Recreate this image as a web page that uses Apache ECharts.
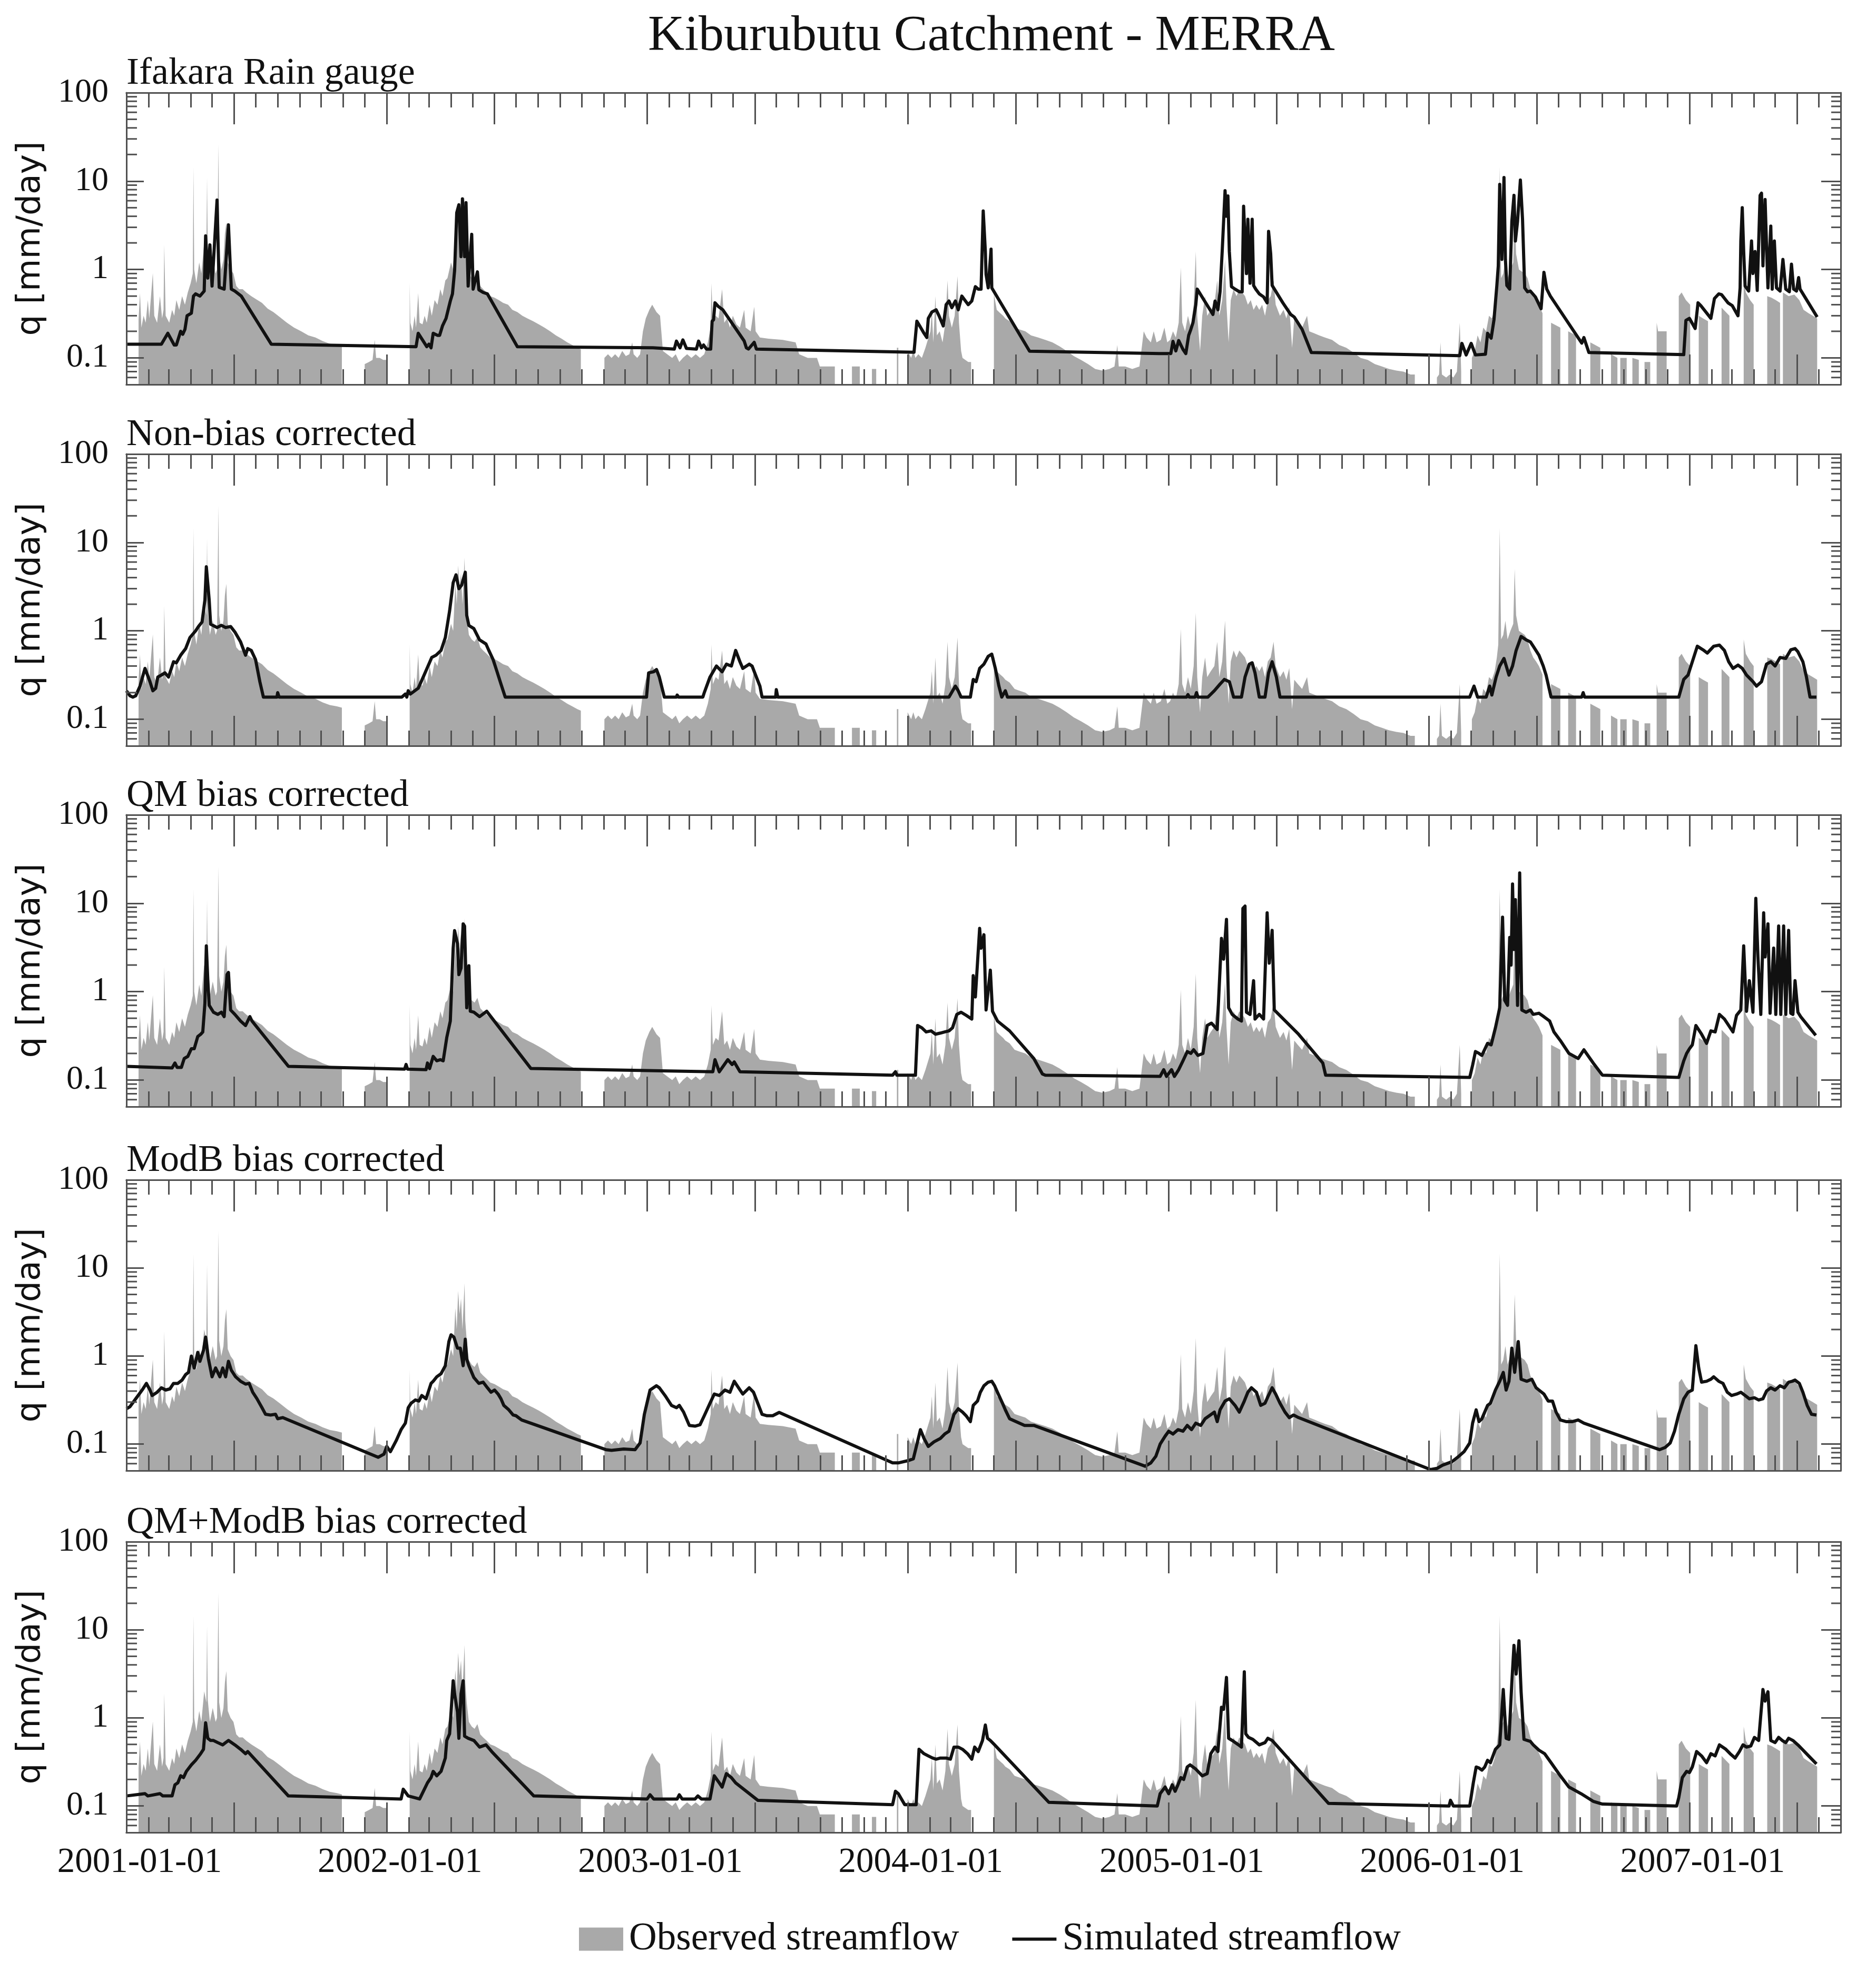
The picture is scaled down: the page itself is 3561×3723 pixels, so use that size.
<!DOCTYPE html>
<html><head><meta charset="utf-8">
<script src="https://cdn.jsdelivr.net/npm/echarts@6/dist/echarts.min.js"></script>
<style>html,body{margin:0;padding:0;background:#fff}#c{width:3561px;height:3723px}</style>
</head><body><div id="c"></div>
<script>
// ---------------- DATA (x = days since 2001-01-01, y = q [mm/day]) ----------------
const mainTitle = 'Kiburubutu Catchment - MERRA';
const panelTitles = ['Ifakara Rain gauge', 'Non-bias corrected', 'QM bias corrected', 'ModB bias corrected', 'QM+ModB bias corrected'];
const yearLabels = ['2001-01-01','2002-01-01','2003-01-01','2004-01-01','2005-01-01','2006-01-01','2007-01-01'];
const yTickLabels = [0.1, 1, 10, 100];
const minorTickValues = [0.06,0.07,0.08,0.09,0.2,0.3,0.4,0.5,0.6,0.7,0.8,0.9,2,3,4,5,6,7,8,9,20,30,40,50,60,70,80,90];
const legendNames = ['Observed streamflow', 'Simulated streamflow'];

const observed = [[17,0.27],[19,0.54],[21,0.22],[24,0.3],[27,0.25],[30,0.45],[32,0.28],[37,0.91],[39,0.3],[43,0.25],[47,0.5],[50,0.28],[52,0.35],[53,1.9],[55,0.3],[60,0.25],[64,0.35],[67,0.3],[70,0.45],[74,0.35],[78,0.5],[82,0.4],[86,0.55],[90,0.7],[93,0.9],[94,14.5],[95,1.0],[98,0.7],[102,1.2],[105,0.9],[109,2.0],[112,1.5],[113,11],[114,1.6],[117,0.9],[121,1.3],[125,0.9],[127,1.0],[129,26],[130,1.5],[133,1.0],[136,1.3],[138,2.5],[140,3.4],[142,1.2],[146,1.0],[150,0.9],[154,0.65],[158,0.6],[163,0.6],[168,0.55],[175,0.5],[182,0.46],[190,0.42],[198,0.36],[206,0.33],[215,0.29],[225,0.25],[235,0.22],[245,0.2],[255,0.18],[265,0.17],[275,0.155],[285,0.145],[295,0.14],[302,0.135],[303,null],
[334,0.085],[340,0.09],[345,0.095],[348,0.16],[350,0.1],[355,0.1],[360,0.095],[366,0.095],[367,null],
[397,0.7],[398,0.25],[401,0.2],[404,0.3],[406,0.22],[409,0.54],[411,0.25],[415,0.24],[418,0.3],[421,0.25],[425,0.4],[428,0.3],[432,0.45],[436,0.4],[440,0.6],[443,0.5],[447,0.75],[450,0.8],[455,1.2],[458,1.0],[461,3.5],[463,2.0],[465,5.5],[467,3.0],[469,4.5],[471,2.0],[474,6.7],[475,2.5],[477,1.5],[480,0.9],[484,0.8],[488,0.75],[492,0.85],[496,0.65],[500,0.6],[505,0.55],[510,0.5],[516,0.48],[522,0.45],[528,0.42],[535,0.4],[541,0.35],[548,0.33],[555,0.3],[562,0.28],[570,0.26],[578,0.24],[586,0.22],[594,0.2],[602,0.18],[610,0.165],[618,0.15],[625,0.14],[632,0.13],[637,0.125],[638,null],
[670,0.1],[675,0.11],[680,0.1],[685,0.11],[690,0.1],[695,0.12],[700,0.105],[705,0.11],[709,0.15],[711,0.11],[716,0.1],[720,0.11],[724,0.2],[728,0.28],[733,0.35],[737,0.4],[743,0.33],[748,0.3],[752,0.12],[758,0.11],[765,0.1],[770,0.11],[775,0.09],[780,0.1],[786,0.11],[792,0.1],[798,0.11],[804,0.1],[810,0.11],[815,0.15],[819,0.22],[820,0.7],[822,0.25],[826,0.3],[830,0.28],[835,0.6],[838,0.25],[842,0.28],[846,0.22],[850,0.3],[855,0.24],[860,0.22],[866,0.35],[868,0.22],[875,0.2],[880,0.38],[882,0.2],[888,0.17],[900,0.165],[920,0.16],[938,0.15],[943,0.11],[955,0.1],[968,0.1],[972,0.08],[993,0.08],[994,null],
[1017,0.08],[1028,0.08],[1029,null],[1045,0.075],[1051,0.075],[1052,null],[1080,0.13],[1082,0.13],[1083,null],
[1095,0.12],[1100,0.1],[1103,0.12],[1106,0.1],[1110,0.11],[1115,0.1],[1120,0.13],[1127,0.2],[1129,0.35],[1131,0.15],[1134,0.5],[1136,0.18],[1140,0.2],[1144,0.15],[1148,0.25],[1151,0.75],[1153,0.3],[1157,0.22],[1161,0.3],[1165,0.84],[1167,0.25],[1170,0.12],[1172,0.1],[1180,0.09],[1184,0.09],[1185,null],
[1216,0.53],[1220,0.35],[1225,0.32],[1229,0.3],[1232,0.28],[1238,0.26],[1245,0.22],[1252,0.21],[1260,0.2],[1268,0.18],[1278,0.17],[1288,0.16],[1298,0.15],[1308,0.135],[1318,0.12],[1328,0.105],[1338,0.095],[1348,0.085],[1358,0.075],[1368,0.072],[1378,0.075],[1385,0.08],[1389,0.14],[1391,0.08],[1400,0.08],[1410,0.075],[1420,0.08],[1426,0.2],[1430,0.17],[1436,0.15],[1440,0.2],[1444,0.15],[1450,0.16],[1455,0.22],[1459,0.15],[1463,0.16],[1467,0.2],[1471,0.17],[1475,0.25],[1478,1.05],[1480,0.25],[1484,0.2],[1488,0.3],[1492,0.22],[1496,0.4],[1499,1.6],[1501,0.3],[1505,0.12],[1508,0.3],[1512,0.5],[1515,0.3],[1520,0.35],[1525,0.4],[1529,0.75],[1532,0.3],[1536,0.45],[1540,1.3],[1542,0.4],[1545,0.15],[1548,0.45],[1552,0.6],[1556,0.5],[1560,0.6],[1564,0.55],[1568,0.5],[1572,0.4],[1576,0.45],[1580,0.35],[1584,0.4],[1588,0.35],[1592,0.4],[1596,0.3],[1600,0.45],[1604,0.5],[1608,0.75],[1611,0.4],[1617,0.3],[1622,0.35],[1626,0.28],[1630,0.38],[1634,0.13],[1637,0.28],[1642,0.25],[1648,0.22],[1655,0.3],[1658,0.2],[1665,0.19],[1672,0.18],[1680,0.17],[1690,0.16],[1700,0.14],[1710,0.13],[1720,0.115],[1730,0.1],[1740,0.095],[1750,0.085],[1760,0.08],[1770,0.075],[1780,0.072],[1790,0.07],[1800,0.065],[1806,0.065],[1807,null],
[1837,0.06],[1840,0.065],[1842,0.15],[1844,0.065],[1850,0.06],[1855,0.065],[1860,0.06],[1865,0.07],[1869,0.25],[1871,0.07],[1872,null],
[1886,0.1],[1890,0.12],[1894,0.18],[1898,0.15],[1902,0.22],[1906,0.2],[1910,0.3],[1914,0.28],[1918,0.35],[1921,0.5],[1923,0.7],[1925,14.5],[1927,0.8],[1930,0.9],[1933,1.3],[1936,0.8],[1940,1.0],[1944,1.2],[1946,5.0],[1948,1.5],[1952,1.0],[1956,0.95],[1960,0.9],[1964,0.8],[1968,0.6],[1972,0.5],[1976,0.45],[1980,0.4],[1985,0.32],[1986,null],
[1997,0.25],[2010,0.22],[2011,null],[2021,0.2],[2032,0.18],[2033,null],[2052,0.15],[2066,0.13],[2067,null],[2081,0.11],[2090,0.1],[2091,null],[2094,0.1],[2103,0.1],[2104,null],[2111,0.1],[2120,0.095],[2121,null],[2128,0.09],[2136,0.09],[2137,null],[2145,0.25],[2147,0.2],[2159,0.2],[2160,null],
[2176,0.5],[2180,0.55],[2186,0.45],[2192,0.4],[2193,null],[2204,0.3],[2210,0.28],[2217,0.26],[2218,null],[2236,0.37],[2242,0.33],[2247,0.3],[2248,null],[2267,0.8],[2270,0.55],[2276,0.45],[2281,0.4],[2282,null],[2300,0.5],[2306,0.48],[2312,0.45],[2318,0.42],[2319,null],[2322,0.55],[2330,0.5],[2338,0.52],[2345,0.45],[2351,0.35],[2358,0.32],[2364,0.3],[2370,0.28]];

const simGauge = [[0,0.143],[49,0.143],[58,0.19],[67,0.14],[70,0.14],[76,0.2],[79,0.185],[82,0.21],[85,0.3],[91,0.32],[94,0.5],[97,0.53],[103,0.5],[109,0.57],[111,2.4],[114,0.8],[117,1.9],[120,0.65],[127,6.1],[130,0.63],[137,0.6],[143,3.2],[147,0.6],[152,0.57],[161,0.5],[203,0.143],[406,0.134],[409,0.19],[421,0.134],[424,0.143],[427,0.13],[430,0.19],[436,0.18],[439,0.18],[443,0.23],[448,0.28],[454,0.44],[457,0.53],[460,0.97],[463,4.4],[466,5.4],[469,1.4],[471,6.3],[474,1.4],[476,5.7],[479,0.65],[484,2.5],[486,0.6],[492,0.94],[494,0.59],[500,0.55],[506,0.53],[548,0.134],[738,0.13],[768,0.126],[771,0.155],[776,0.13],[780,0.16],[785,0.128],[799,0.126],[802,0.155],[806,0.13],[809,0.14],[813,0.126],[819,0.126],[821,0.26],[823,0.27],[825,0.42],[830,0.38],[836,0.35],[866,0.155],[869,0.13],[872,0.126],[880,0.15],[883,0.126],[1104,0.116],[1108,0.26],[1112,0.23],[1118,0.19],[1122,0.17],[1124,0.28],[1129,0.33],[1135,0.35],[1139,0.3],[1145,0.23],[1149,0.4],[1153,0.44],[1157,0.37],[1162,0.44],[1166,0.35],[1171,0.5],[1180,0.4],[1185,0.44],[1190,0.64],[1194,0.6],[1198,0.6],[1201,4.6],[1204,1.6],[1205,0.88],[1208,0.62],[1212,1.7],[1213,0.62],[1266,0.119],[1448,0.112],[1464,0.112],[1467,0.154],[1471,0.12],[1475,0.157],[1481,0.125],[1485,0.112],[1489,0.18],[1492,0.21],[1495,0.25],[1499,0.4],[1501,0.6],[1523,0.31],[1526,0.44],[1530,0.35],[1533,0.56],[1536,1.6],[1540,7.8],[1542,4.0],[1544,6.8],[1546,1.6],[1549,0.64],[1554,0.6],[1560,0.56],[1564,0.56],[1566,5.2],[1570,0.9],[1572,3.7],[1575,0.7],[1578,3.7],[1580,0.66],[1583,0.6],[1588,0.53],[1594,0.49],[1599,0.42],[1601,2.7],[1604,1.5],[1606,0.66],[1621,0.42],[1632,0.31],[1637,0.29],[1648,0.21],[1661,0.115],[1869,0.106],[1872,0.146],[1878,0.108],[1885,0.146],[1891,0.108],[1905,0.11],[1908,0.19],[1913,0.167],[1917,0.27],[1921,0.66],[1923,1.1],[1925,9.2],[1928,1.3],[1931,11],[1933,1.3],[1935,0.66],[1939,0.6],[1942,3.5],[1945,6.9],[1947,2.1],[1950,3.5],[1954,10.3],[1957,3.7],[1960,0.62],[1964,0.56],[1968,0.57],[1975,0.49],[1983,0.36],[1987,0.93],[1991,0.6],[1996,0.5],[2040,0.147],[2043,0.17],[2050,0.115],[2183,0.109],[2186,0.265],[2191,0.28],[2199,0.215],[2203,0.42],[2207,0.39],[2221,0.28],[2226,0.47],[2232,0.53],[2236,0.52],[2245,0.42],[2251,0.39],[2259,0.3],[2262,0.62],[2263,2.1],[2265,5.0],[2267,1.6],[2269,0.65],[2274,0.57],[2278,2.1],[2280,0.9],[2283,1.6],[2286,0.58],[2290,6.9],[2292,7.3],[2294,1.1],[2297,6.2],[2299,1.9],[2301,0.62],[2305,3.1],[2307,0.6],[2310,2.1],[2313,0.62],[2318,0.57],[2322,1.3],[2326,0.6],[2331,0.56],[2334,1.15],[2337,0.6],[2341,0.57],[2344,0.81],[2346,0.6],[2370,0.29]];

const simNoBias = [[0,0.21],[5,0.184],[9,0.178],[13,0.184],[19,0.237],[26,0.376],[33,0.266],[37,0.21],[41,0.224],[44,0.3],[49,0.316],[54,0.335],[59,0.3],[66,0.447],[70,0.435],[76,0.53],[83,0.63],[89,0.84],[97,1.0],[101,1.12],[106,1.26],[110,2.24],[112,5.3],[116,2.24],[118,1.19],[127,1.09],[133,1.155],[139,1.09],[146,1.12],[152,0.97],[160,0.75],[167,0.53],[170,0.63],[175,0.6],[181,0.473],[187,0.266],[192,0.178],[211,0.178],[212,0.2],[214,0.178],[386,0.178],[391,0.193],[393,0.178],[395,0.21],[398,0.193],[409,0.224],[416,0.3],[422,0.387],[428,0.5],[434,0.53],[441,0.6],[447,0.84],[453,1.68],[458,3.5],[462,4.3],[466,3.0],[470,3.3],[475,4.6],[477,1.5],[480,1.15],[487,1.06],[495,0.79],[504,0.71],[508,0.6],[514,0.473],[519,0.355],[525,0.25],[531,0.178],[729,0.178],[732,0.335],[739,0.344],[743,0.365],[747,0.3],[754,0.178],[771,0.178],[772,0.188],[774,0.178],[808,0.178],[810,0.2],[818,0.3],[827,0.4],[835,0.344],[841,0.42],[848,0.4],[854,0.6],[860,0.447],[864,0.376],[873,0.42],[877,0.4],[883,0.3],[888,0.237],[891,0.178],[910,0.178],[911,0.216],[913,0.178],[1153,0.178],[1162,0.237],[1166,0.21],[1170,0.178],[1183,0.178],[1187,0.282],[1191,0.266],[1196,0.376],[1202,0.42],[1208,0.515],[1213,0.545],[1218,0.376],[1223,0.237],[1227,0.178],[1232,0.21],[1235,0.178],[1486,0.178],[1488,0.19],[1490,0.178],[1498,0.178],[1500,0.2],[1502,0.178],[1516,0.178],[1525,0.21],[1533,0.25],[1539,0.282],[1546,0.266],[1552,0.178],[1563,0.178],[1568,0.3],[1574,0.42],[1578,0.435],[1582,0.335],[1588,0.178],[1596,0.178],[1601,0.335],[1606,0.447],[1612,0.3],[1617,0.178],[1883,0.178],[1889,0.237],[1894,0.178],[1906,0.178],[1911,0.237],[1914,0.188],[1920,0.3],[1925,0.4],[1931,0.487],[1938,0.316],[1943,0.4],[1948,0.6],[1955,0.865],[1962,0.79],[1968,0.75],[1972,0.67],[1980,0.53],[1986,0.4],[1990,0.316],[1997,0.178],[2040,0.178],[2042,0.2],[2044,0.178],[2176,0.178],[2183,0.282],[2189,0.316],[2195,0.447],[2202,0.67],[2210,0.61],[2216,0.56],[2225,0.67],[2233,0.69],[2240,0.6],[2246,0.447],[2252,0.376],[2259,0.41],[2265,0.376],[2271,0.316],[2280,0.266],[2285,0.237],[2292,0.266],[2299,0.42],[2305,0.447],[2311,0.4],[2318,0.5],[2326,0.487],[2333,0.61],[2339,0.63],[2343,0.58],[2350,0.447],[2355,0.3],[2360,0.178],[2369,0.178]];

const simQM = [[0,0.143],[64,0.137],[68,0.156],[71,0.139],[77,0.139],[81,0.175],[86,0.185],[91,0.226],[95,0.226],[100,0.311],[104,0.329],[107,0.35],[110,0.74],[112,3.3],[114,1.39],[116,0.7],[122,0.585],[128,0.553],[133,0.585],[137,0.522],[141,1.56],[143,1.65],[146,0.62],[152,0.553],[160,0.465],[167,0.414],[173,0.522],[176,0.465],[227,0.143],[390,0.133],[392,0.15],[394,0.133],[420,0.131],[422,0.156],[425,0.135],[430,0.185],[435,0.165],[440,0.17],[444,0.165],[449,0.302],[454,0.465],[458,3.1],[460,4.9],[464,3.5],[466,1.56],[469,1.85],[472,5.85],[474,5.5],[477,0.657],[480,1.96],[482,0.6],[487,0.585],[495,0.522],[505,0.6],[567,0.135],[822,0.124],[825,0.17],[831,0.124],[843,0.17],[849,0.15],[852,0.16],[860,0.124],[1074,0.1135],[1078,0.124],[1080,0.1135],[1106,0.1135],[1109,0.414],[1115,0.39],[1121,0.35],[1128,0.36],[1134,0.33],[1141,0.34],[1147,0.35],[1153,0.36],[1158,0.39],[1164,0.553],[1170,0.585],[1177,0.54],[1185,0.49],[1187,1.52],[1190,0.87],[1196,5.2],[1198,3.1],[1202,4.4],[1205,0.62],[1211,1.75],[1214,0.6],[1221,0.465],[1238,0.36],[1272,0.175],[1284,0.117],[1288,0.1135],[1449,0.11],[1454,0.131],[1458,0.11],[1465,0.131],[1469,0.11],[1475,0.131],[1481,0.165],[1487,0.21],[1492,0.2],[1496,0.22],[1502,0.19],[1509,0.2],[1515,0.414],[1521,0.44],[1529,0.373],[1535,4.0],[1538,2.33],[1542,6.57],[1545,0.657],[1550,0.553],[1558,0.49],[1563,0.465],[1565,8.76],[1568,9.28],[1570,0.585],[1575,0.553],[1580,1.33],[1582,0.49],[1588,0.553],[1594,0.49],[1599,7.8],[1602,2.1],[1606,4.93],[1609,0.62],[1643,0.33],[1677,0.156],[1681,0.1135],[1883,0.107],[1887,0.147],[1891,0.21],[1896,0.2],[1900,0.19],[1908,0.26],[1913,0.25],[1919,0.39],[1925,0.657],[1929,6.96],[1932,0.8],[1936,0.7],[1939,4.1],[1941,2.0],[1943,16.5],[1945,3.0],[1947,11.0],[1950,0.7],[1953,22],[1956,0.62],[1962,0.585],[1968,0.62],[1972,0.553],[1980,0.57],[1987,0.52],[1995,0.465],[2001,0.35],[2010,0.28],[2022,0.2],[2035,0.175],[2043,0.22],[2056,0.156],[2069,0.1135],[2176,0.107],[2183,0.165],[2187,0.2],[2191,0.226],[2195,0.25],[2200,0.414],[2208,0.33],[2215,0.26],[2221,0.36],[2227,0.35],[2233,0.553],[2240,0.49],[2246,0.414],[2252,0.35],[2257,0.54],[2263,0.62],[2267,3.29],[2271,0.6],[2275,1.33],[2280,0.585],[2284,11.35],[2287,2.47],[2291,0.553],[2295,7.8],[2297,2.47],[2301,5.85],[2304,0.57],[2309,3.11],[2312,0.553],[2316,5.53],[2319,0.553],[2323,5.53],[2326,0.553],[2330,4.93],[2333,0.57],[2336,0.553],[2339,1.33],[2343,0.585],[2347,0.52],[2368,0.32]];

const simModB = [[0,0.252],[5,0.266],[13,0.327],[22,0.411],[28,0.489],[33,0.411],[36,0.356],[43,0.388],[49,0.436],[55,0.411],[61,0.424],[66,0.489],[72,0.489],[78,0.533],[83,0.616],[87,0.652],[91,1.0],[95,0.732],[100,1.1],[103,0.871],[108,1.16],[111,1.64],[115,0.923],[120,0.581],[125,0.732],[131,0.581],[135,0.732],[139,0.581],[143,0.871],[147,0.69],[153,0.581],[160,0.517],[167,0.48],[172,0.489],[177,0.388],[183,0.327],[190,0.259],[195,0.218],[202,0.214],[209,0.218],[212,0.194],[219,0.2],[353,0.0708],[361,0.077],[365,0.094],[370,0.082],[378,0.109],[385,0.146],[391,0.173],[395,0.259],[399,0.291],[405,0.317],[410,0.308],[414,0.356],[420,0.327],[427,0.489],[430,0.517],[435,0.581],[441,0.63],[447,0.776],[452,1.46],[455,1.74],[459,1.64],[464,1.23],[468,1.23],[472,0.776],[475,1.55],[477,0.923],[480,0.776],[487,0.57],[494,0.489],[500,0.505],[506,0.436],[511,0.388],[516,0.411],[521,0.37],[525,0.327],[529,0.275],[536,0.245],[542,0.214],[546,0.21],[554,0.188],[672,0.0865],[680,0.085],[697,0.088],[713,0.0865],[720,0.103],[726,0.218],[734,0.411],[743,0.46],[747,0.436],[755,0.356],[764,0.275],[771,0.259],[775,0.275],[781,0.231],[789,0.163],[797,0.16],[804,0.166],[810,0.21],[818,0.291],[824,0.37],[831,0.356],[839,0.411],[846,0.388],[852,0.517],[858,0.436],[864,0.37],[873,0.436],[879,0.388],[885,0.291],[891,0.218],[898,0.21],[906,0.21],[915,0.229],[1074,0.0612],[1082,0.0612],[1095,0.0647],[1103,0.068],[1107,0.092],[1113,0.146],[1118,0.116],[1124,0.094],[1132,0.106],[1141,0.116],[1147,0.13],[1153,0.14],[1160,0.218],[1166,0.252],[1172,0.231],[1177,0.21],[1183,0.18],[1187,0.275],[1193,0.308],[1197,0.388],[1202,0.46],[1208,0.505],[1213,0.517],[1217,0.46],[1221,0.388],[1228,0.291],[1232,0.245],[1238,0.194],[1247,0.18],[1259,0.163],[1272,0.163],[1428,0.0561],[1436,0.0612],[1443,0.0728],[1449,0.1],[1456,0.123],[1461,0.14],[1467,0.13],[1474,0.146],[1481,0.14],[1487,0.163],[1493,0.146],[1499,0.173],[1506,0.163],[1512,0.194],[1518,0.21],[1525,0.231],[1529,0.18],[1533,0.245],[1540,0.308],[1546,0.327],[1554,0.275],[1560,0.231],[1567,0.308],[1572,0.388],[1577,0.436],[1584,0.388],[1590,0.275],[1596,0.291],[1600,0.345],[1606,0.436],[1611,0.37],[1617,0.291],[1624,0.231],[1630,0.2],[1636,0.214],[1643,0.2],[1828,0.0514],[1837,0.053],[1845,0.0577],[1858,0.0631],[1866,0.0708],[1875,0.082],[1883,0.103],[1887,0.173],[1892,0.245],[1896,0.18],[1900,0.194],[1908,0.275],[1912,0.291],[1919,0.411],[1925,0.517],[1930,0.652],[1934,0.411],[1938,0.517],[1942,1.23],[1946,0.652],[1951,1.46],[1955,0.545],[1963,0.517],[1970,0.545],[1976,0.436],[1980,0.411],[1987,0.37],[1993,0.308],[1999,0.308],[2004,0.231],[2010,0.188],[2018,0.18],[2027,0.18],[2035,0.188],[2043,0.173],[2149,0.0865],[2157,0.0916],[2164,0.103],[2170,0.14],[2176,0.218],[2183,0.327],[2189,0.388],[2195,0.411],[2200,1.31],[2204,0.732],[2208,0.505],[2215,0.517],[2221,0.545],[2225,0.581],[2232,0.517],[2238,0.489],[2244,0.388],[2250,0.356],[2257,0.37],[2263,0.388],[2269,0.356],[2275,0.327],[2282,0.336],[2288,0.317],[2294,0.327],[2299,0.4],[2305,0.436],[2311,0.411],[2318,0.46],[2324,0.436],[2330,0.505],[2335,0.517],[2339,0.533],[2345,0.489],[2350,0.388],[2356,0.275],[2362,0.218],[2369,0.214]];

const simQMModB = [[0,0.13],[26,0.138],[30,0.13],[47,0.138],[51,0.13],[64,0.13],[68,0.174],[72,0.183],[76,0.22],[80,0.21],[84,0.247],[91,0.293],[97,0.33],[104,0.392],[108,0.44],[111,0.88],[114,0.587],[118,0.554],[122,0.554],[128,0.524],[135,0.494],[139,0.524],[143,0.554],[152,0.494],[160,0.44],[167,0.392],[170,0.415],[227,0.13],[385,0.12],[388,0.155],[395,0.13],[411,0.12],[422,0.183],[427,0.21],[430,0.247],[435,0.22],[441,0.247],[447,0.35],[449,0.554],[453,0.66],[458,2.64],[460,1.87],[464,1.17],[466,0.587],[469,1.87],[472,2.64],[474,0.62],[479,0.587],[487,0.554],[495,0.466],[504,0.494],[512,0.415],[571,0.13],[730,0.12],[734,0.134],[739,0.12],[772,0.12],[775,0.134],[779,0.12],[797,0.12],[801,0.13],[806,0.12],[818,0.12],[824,0.22],[831,0.183],[835,0.164],[841,0.233],[848,0.21],[854,0.183],[885,0.116],[1074,0.1035],[1078,0.147],[1082,0.138],[1091,0.1035],[1107,0.1035],[1111,0.44],[1118,0.392],[1124,0.37],[1130,0.35],[1135,0.34],[1141,0.35],[1149,0.35],[1155,0.34],[1160,0.466],[1166,0.466],[1172,0.44],[1179,0.392],[1185,0.34],[1189,0.466],[1194,0.415],[1200,0.554],[1204,0.83],[1207,0.587],[1211,0.554],[1217,0.494],[1293,0.11],[1445,0.1],[1449,0.138],[1456,0.164],[1461,0.138],[1466,0.174],[1470,0.147],[1474,0.174],[1478,0.21],[1482,0.2],[1487,0.277],[1491,0.293],[1499,0.262],[1508,0.22],[1515,0.233],[1520,0.392],[1526,0.466],[1530,0.415],[1535,1.32],[1538,1.25],[1542,2.88],[1545,0.587],[1550,0.554],[1559,0.494],[1563,0.466],[1567,3.33],[1569,0.66],[1573,0.6],[1579,0.57],[1588,0.494],[1596,0.524],[1600,0.587],[1606,0.554],[1685,0.107],[1854,0.1],[1856,0.116],[1860,0.1],[1883,0.1],[1888,0.183],[1892,0.277],[1896,0.27],[1900,0.255],[1904,0.277],[1908,0.33],[1912,0.31],[1919,0.44],[1925,0.494],[1930,2.1],[1934,0.587],[1938,0.57],[1942,2.5],[1945,6.67],[1948,3.14],[1952,7.5],[1955,1.98],[1959,0.57],[1968,0.54],[1972,0.494],[1980,0.43],[1988,0.392],[1997,0.31],[2010,0.22],[2022,0.164],[2039,0.138],[2056,0.113],[2069,0.105],[2173,0.1],[2176,0.124],[2181,0.21],[2187,0.247],[2191,0.24],[2195,0.277],[2201,0.415],[2208,0.37],[2215,0.31],[2221,0.392],[2227,0.37],[2233,0.494],[2242,0.44],[2248,0.392],[2255,0.35],[2261,0.415],[2266,0.494],[2271,0.466],[2277,0.48],[2282,0.6],[2288,0.554],[2294,2.1],[2297,1.55],[2301,1.98],[2305,0.554],[2311,0.524],[2316,0.6],[2321,0.554],[2326,0.524],[2330,0.587],[2336,0.554],[2343,0.494],[2369,0.3]];

const simulated = [simGauge, simNoBias, simQM, simModB, simQMModB];

// ---------------- LAYOUT / STYLE ----------------
const SERIF = "'Liberation Serif','DejaVu Serif',serif";
const SANS = "'DejaVu Sans',sans-serif";
const FRAME = '#505050';
const OBS = '#a9a9a9';
const SIMW = 6;
const gridTops = [176, 862, 1547, 2240, 2927];
const gridHeights = [554, 554, 554, 552, 552];
const GL = 240, GW = 3254;

// day categories for the date axis (ticks & labels)
const DAY = 86400000, T0 = Date.UTC(2001, 0, 1), NDAYS = 2404;
const days = Array.from({length: NDAYS}, (_, i) => new Date(T0 + i * DAY).toISOString().slice(0, 10));
const isMonthStart = i => days[i].slice(8) === '01';
const isMajor = i => /-(01|06)-01$/.test(days[i]);
const labelSet = new Set(yearLabels);

const chart = echarts.init(document.getElementById('c'), null, {renderer: 'canvas'});

const grids = [], xAxes = [], yAxes = [], series = [];
const yFmt = v => {
  const hit = yTickLabels.find(t => Math.abs(Math.log10(v) - Math.log10(t)) < 1e-6);
  return hit === undefined ? '' : String(hit);
};

function catAxis(g, pos, len, pred, labels) {
  return {
    type: 'category', gridIndex: g, position: pos, data: days, boundaryGap: false, z: 10,
    axisLine: {show: true, onZero: false, lineStyle: {color: FRAME, width: 3}},
    axisTick: {show: true, inside: true, length: len, interval: (i) => pred(i), lineStyle: {color: FRAME, width: 3}},
    axisLabel: {show: !!labels, interval: (i, v) => labelSet.has(v), margin: 24,
      fontSize: 67, fontFamily: SERIF, color: '#111', padding: [0, 0, 0, 50]},
    splitLine: {show: false}, axisPointer: {show: false}
  };
}
function logAxis(g, pos, len, main) {
  return {
    type: 'log', logBase: 10, min: 0.05, max: 100, gridIndex: g, position: pos, z: 10,
    axisLine: {show: true, onZero: false, lineStyle: {color: FRAME, width: 3}},
    axisTick: {show: true, inside: true, length: len, lineStyle: {color: FRAME, width: 3}},
    axisLabel: {show: main, margin: 34, formatter: yFmt, fontSize: 64, fontFamily: SERIF, color: '#111', padding: [16, 0, 0, 0]},
    splitLine: {show: false}, minorTick: {show: false}, minorSplitLine: {show: false},
    name: main ? 'q [mm/day]' : '', nameLocation: 'middle', nameGap: 150, nameRotate: 90,
    nameTextStyle: {fontSize: 63, fontFamily: SANS, color: '#111'}
  };
}
function minorTicks(params, api) {
  const p = api.coord([0, api.value(1)]);
  const cs = params.coordSys;
  return {type: 'group', children: [
    {type: 'line', shape: {x1: cs.x, y1: p[1], x2: cs.x + 20, y2: p[1]}, style: {stroke: FRAME, lineWidth: 3}},
    {type: 'line', shape: {x1: cs.x + cs.width - 18, y1: p[1], x2: cs.x + cs.width, y2: p[1]}, style: {stroke: FRAME, lineWidth: 3}}
  ]};
}
const toData = arr => arr.map(([d, v]) => [d, v == null ? '-' : v]);

for (let g = 0; g < 5; g++) {
  grids.push({left: GL, width: GW, top: gridTops[g], height: gridHeights[g], show: false, outerBoundsMode: 'none'});
  xAxes.push(catAxis(g, 'bottom', 29, isMonthStart, false));
  xAxes.push(catAxis(g, 'bottom', 57, isMajor, g === 4));
  xAxes.push(catAxis(g, 'top', 28, isMonthStart, false));
  xAxes.push(catAxis(g, 'top', 60, isMajor, false));
  xAxes.push({type: 'value', gridIndex: g, min: 0, max: NDAYS - 1, show: false, splitLine: {show: false}});
  yAxes.push(logAxis(g, 'left', 33, true));
  yAxes.push(logAxis(g, 'right', 37, false));
  const xi = g * 5 + 4, yi = g * 2;
  series.push({type: 'line', name: legendNames[0], xAxisIndex: xi, yAxisIndex: yi, data: toData(observed),
    symbol: 'none', showSymbol: false, connectNulls: false, silent: true, z: 2,
    lineStyle: {width: 0, color: OBS}, itemStyle: {color: OBS},
    areaStyle: {color: OBS, opacity: 1, origin: 'start'}});
  series.push({type: 'line', name: legendNames[1], xAxisIndex: xi, yAxisIndex: yi, data: toData(simulated[g]),
    symbol: 'none', showSymbol: false, silent: true, z: 3,
    lineStyle: {width: SIMW, color: '#111', join: 'round'}, itemStyle: {color: '#111'}});
  series.push({type: 'custom', xAxisIndex: xi, yAxisIndex: yi, data: minorTickValues.map(v => [0, v]),
    renderItem: minorTicks, silent: true, z: 11});
}

const titles = [{text: mainTitle, left: 1882, top: 22, textAlign: 'center', padding: 0,
  textStyle: {fontSize: 96, fontFamily: SERIF, fontWeight: 'normal', color: '#111'}}];
panelTitles.forEach((t, i) => titles.push({text: t, left: GL, top: gridTops[i] - 72, padding: 0,
  textStyle: {fontSize: 72, fontFamily: SERIF, fontWeight: 'normal', color: '#111'}}));

chart.setOption({
  animation: false,
  backgroundColor: '#fff',
  title: titles,
  legend: {left: 1094, top: 3640, itemWidth: 84, itemHeight: 44, itemGap: 98, selectedMode: false,
    textStyle: {fontSize: 73, fontFamily: SERIF, color: '#111', padding: [0, 0, 0, 6]},
    data: [{name: legendNames[0], icon: 'rect'},
           {name: legendNames[1], itemStyle: {opacity: 0}, lineStyle: {width: SIMW, color: '#111'}}]},
  grid: grids, xAxis: xAxes, yAxis: yAxes, series: series
});
</script></body></html>
